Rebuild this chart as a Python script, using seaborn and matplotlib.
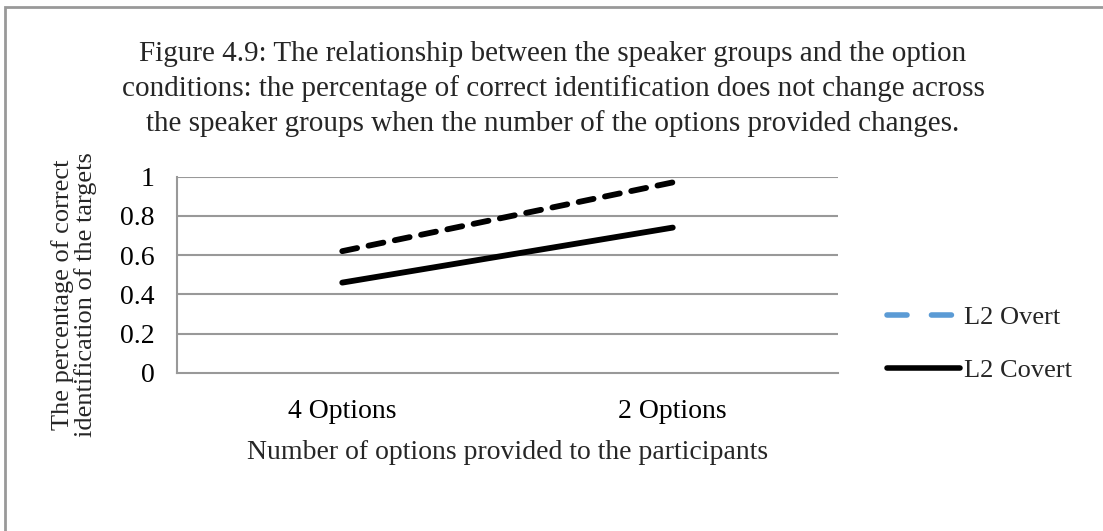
import numpy as np
import pandas as pd
import matplotlib
matplotlib.use("Agg")
import matplotlib.pyplot as plt
from matplotlib.lines import Line2D
from matplotlib.patches import Rectangle
import seaborn as sns

categories = ["4 Options", "2 Options"]
overt = [0.62, 0.97]
covert = [0.46, 0.74]
series_names = ["L2 Overt", "L2 Covert"]
yticks = [0, 0.2, 0.4, 0.6, 0.8, 1]
ytick_labels = ["0", "0.2", "0.4", "0.6", "0.8", "1"]

df = pd.DataFrame({
    "pos": list(range(len(categories))) * 2,
    "value": overt + covert,
    "series": [series_names[0]] * len(categories) + [series_names[1]] * len(categories),
})

sns.set_theme(style="white")
plt.rcParams["font.family"] = ["Liberation Serif", "DejaVu Serif"]

fig = plt.figure(figsize=(11.03, 5.31), dpi=100)
ax = fig.add_axes([177 / 1103, 1 - 373 / 531, (838 - 177) / 1103, (373 - 176.5) / 531])

grid_c = "#999999"
for y in yticks[1:]:
    ax.axhline(y, color=grid_c, lw=1.5, zorder=0)

sns.lineplot(data=df, x="pos", y="value", hue="series", style="series",
             palette=["black", "black"],
             dashes={series_names[0]: (2.6, 2.0), series_names[1]: ""},
             linewidth=4.2, legend=False, ax=ax, zorder=3)
for ln in ax.lines:
    ln.set_solid_capstyle("round")
    ln.set_dash_capstyle("round")

ax.set_xlim(-0.5, 1.5)
ax.set_ylim(0, 1)
ax.set_yticks(yticks)
ax.set_yticklabels(ytick_labels, fontsize=20)
ax.set_xticks(range(len(categories)))
ax.set_xticklabels(categories, fontsize=20)
ax.set_xticks([-0.5, 0.5, 1.5], minor=True)
ax.tick_params(axis="x", which="major", length=0, pad=19)
ax.tick_params(axis="x", which="minor", length=6, width=1.5, direction="out")
ax.tick_params(axis="y", which="major", length=6, width=1.5, direction="out", pad=10)
ax.tick_params(axis="both", which="both", color=grid_c, labelcolor="black")
for s in ["top", "right"]:
    ax.spines[s].set_visible(False)
for s in ["left", "bottom"]:
    ax.spines[s].set_color(grid_c)
    ax.spines[s].set_linewidth(1.5)
ax.set_xlabel("Number of options provided to the participants", fontsize=20, labelpad=11)
ax.set_ylabel("")

fig.text(74 / 1103, 1 - 295 / 531, "The percentage of correct\nidentification of the targets",
         rotation=90, ha="center", va="center", fontsize=19, linespacing=0.98)

fig.text(553 / 1103, 1 - 89 / 531,
         "Figure 4.9: The relationship between the speaker groups and the option\n"
         "conditions: the percentage of correct identification does not change across\n"
         "the speaker groups when the number of the options provided changes.",
         ha="center", va="center", fontsize=21, linespacing=1.36)

handles = [
    Line2D([], [], color="#5B9BD5", lw=4.0, dashes=(3.6, 4.4), dash_capstyle="round"),
    Line2D([], [], color="black", lw=4.0, solid_capstyle="round"),
]
fig.legend(handles, series_names, loc="center left",
           bbox_to_anchor=(887 / 1103, 1 - 344 / 531), frameon=False,
           fontsize=19, handlelength=2.75, handletextpad=0.15, labelspacing=1.1,
           borderaxespad=0, borderpad=0)

fig.add_artist(Rectangle((5 / 1103, -0.2), 2, 1.2 - 7 / 531, transform=fig.transFigure,
                         fill=False, edgecolor="#999999", lw=2))

fig.savefig("out.png", dpi=100)
